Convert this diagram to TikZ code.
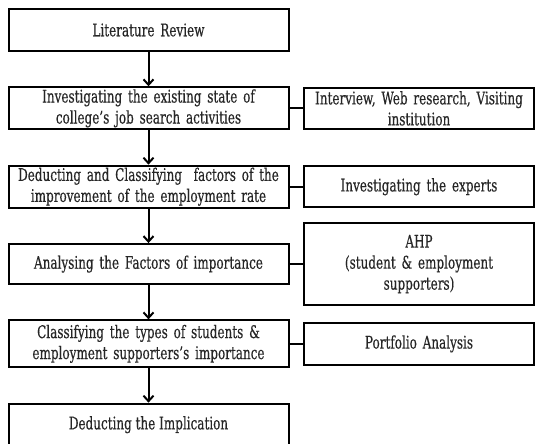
\documentclass[tikz,border=0pt]{standalone}
\usepackage{fontspec}
\setmainfont{DejaVu Serif}[FakeStretch=0.69,FakeBold=0.4]
\usetikzlibrary{positioning,arrows.meta,calc}

\begin{document}
\begin{tikzpicture}[x=1pt,y=1pt,
	node distance=34.3pt and 13.5pt,
	stepbox/.style={draw, line width=2pt, text width=272pt, align=center,
		minimum width=280pt, minimum height=41pt, inner sep=2pt, text=black!85,
		font=\fontsize{17.4}{21}\selectfont},
	toolbox/.style={stepbox, text width=222pt, minimum width=230pt},
	flow/.style={-{Straight Barb[length=5.5pt,width=10pt,line width=2pt]}, line width=2pt},
	link/.style={line width=2pt}]
	\useasboundingbox (0,0) rectangle (536,-444);
	\clip (0,0) rectangle (536,-444);
	
	\node[stepbox, minimum height=42pt] (lit) at (148.5,-30) {Literature Review};
	\node[stepbox, minimum height=40pt, below=of lit] (state) {Investigating the existing state of\\college’s job search activities};
	\node[stepbox, below=of state] (factor) {Deducting and Classifying \ factors of the\\improvement of the employment rate};
	\node[stepbox, minimum height=40pt, below=of factor] (analyse) {Analysing the Factors of importance};
	\node[stepbox, minimum height=47pt, below=of analyse] (types) {Classifying the types of students \&\\employment supporters’s importance};
	\node[stepbox, minimum height=60pt, below=of types] (impl) {};
	\node at ($(impl.north)+(0,-22)$) [text=black!85, font=\fontsize{17.4}{21}\selectfont] (impltext) {Deducting the Implication};
	
	\node[toolbox, right=of state] (web) {Interview, Web research, Visiting\\institution};
	\node[toolbox, right=of factor] (expert) {Investigating the experts};
	\node[toolbox, minimum height=82pt, right=of analyse] (ahp) {AHP\\(student \& employment\\supporters)};
	\node[toolbox, minimum height=42pt, right=of types] (port) {Portfolio Analysis};
	
	\draw[flow] (lit) -- (state);
	\draw[flow] (state) -- (factor);
	\draw[flow] (factor) -- (analyse);
	\draw[flow] (analyse) -- (types);
	\draw[flow] (types) -- (impl);
	
	\draw[link] (state) -- (web);
	\draw[link] (factor) -- (expert);
	\draw[link] (analyse) -- (ahp);
	\draw[link] (types) -- (port);
\end{tikzpicture}
\end{document}
